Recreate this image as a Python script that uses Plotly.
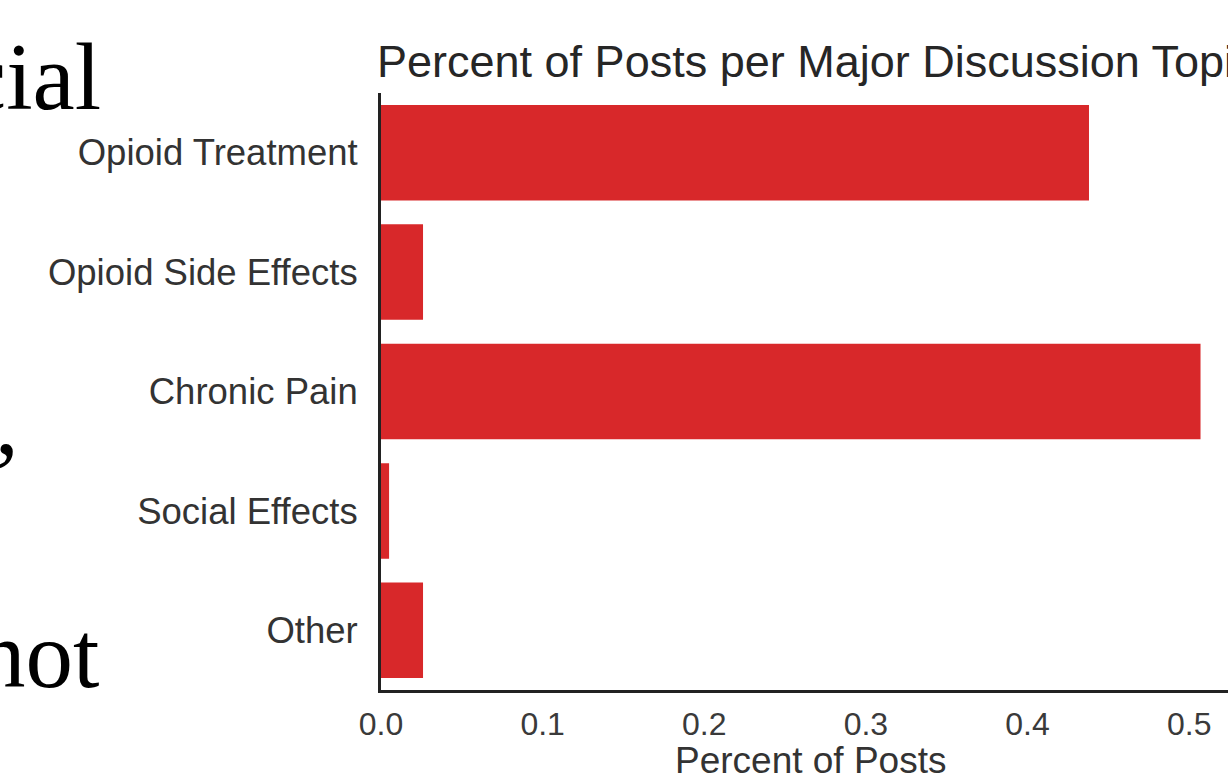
import plotly.graph_objects as go

categories = ["Opioid Treatment", "Opioid Side Effects", "Chronic Pain", "Social Effects", "Other"]
percent_of_posts = [0.438, 0.026, 0.507, 0.005, 0.026]
x_ticks = [0.0, 0.1, 0.2, 0.3, 0.4, 0.5]
x_tick_labels = ["0.0", "0.1", "0.2", "0.3", "0.4", "0.5"]
slide_fragments = ["cial", ",", "not"]

W, H = 1228, 780
L, R, T, B = 381, 0, 93, 90
PW, PH = W - L - R, H - T - B
SANS = "Arial, Liberation Sans, sans-serif"

def px_x(x):
    return (x - L) / PW

def px_y(y):
    return (H - B - y) / PH

fig = go.Figure(go.Bar(
    x=percent_of_posts, y=categories, orientation="h",
    marker=dict(color="#d8282a", line=dict(width=0)),
))

fig.update_layout(
    width=W, height=H, autosize=False,
    margin=dict(l=L, r=R, t=T, b=B, pad=0),
    paper_bgcolor="white", plot_bgcolor="white",
    bargap=0.2, showlegend=False,
    font=dict(family=SANS, color="#333333"),
)
fig.update_xaxes(
    range=[0, 0.524], tickvals=x_ticks, ticktext=x_tick_labels,
    showgrid=False, zeroline=False, showline=True, linecolor="#222222", linewidth=3,
    ticks="", ticklabelstandoff=4, tickfont=dict(size=32, family=SANS, color="#3a3a3a"),
    automargin=False,
)
fig.update_yaxes(
    autorange="reversed", showgrid=False, zeroline=False, showline=True,
    linecolor="#222222", linewidth=3, ticks="", ticklabelstandoff=13,
    tickfont=dict(size=36.5, family=SANS, color="#333333"), automargin=False,
)

annotations = [
    dict(text="Percent of Posts per Major Discussion Topics", xref="paper", yref="paper",
         x=px_x(375), y=px_y(62), xanchor="left", yanchor="middle", showarrow=False,
         font=dict(size=45, color="#262626", family=SANS)),
    dict(text="Percent of Posts", xref="paper", yref="paper",
         x=px_x(810), y=px_y(760), xanchor="center", yanchor="middle", showarrow=False,
         font=dict(size=37, color="#333333", family=SANS)),
]
frag_pos = [(103, 77, 95), (21, 422, 95), (101, 655, 95)]
for txt, (xr, yc, fs) in zip(slide_fragments, frag_pos):
    annotations.append(dict(text=txt, xref="paper", yref="paper", x=px_x(xr), y=px_y(yc),
                            xanchor="right", yanchor="middle", showarrow=False,
                            font=dict(size=fs, color="black", family="Liberation Serif, Times New Roman, serif")))
fig.update_layout(annotations=annotations)

fig.write_html("out.html", config={"displayModeBar": False},
               post_script="document.body.style.margin='0';")
